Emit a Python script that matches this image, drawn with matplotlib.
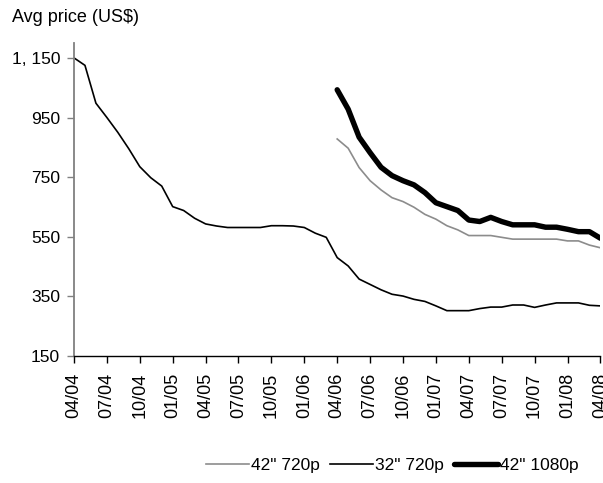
import matplotlib.pyplot as plt
import matplotlib.ticker as mticker

plt.rcParams['font.family'] = ['Liberation Sans', 'DejaVu Sans']

# monthly, 04/04 .. 04/08
months = list(range(49))
tick_pos = list(range(0, 49, 3))
tick_labels = ["04/04", "07/04", "10/04", "01/05", "04/05", "07/05", "10/05", "01/06",
               "04/06", "07/06", "10/06", "01/07", "04/07", "07/07", "10/07", "01/08", "04/08"]

price_32_720 = [1150, 1125, 998, 950, 900, 845, 785, 748, 720, 651, 638, 612, 593, 586,
                581, 581, 581, 581, 587, 587, 586, 581, 562, 548, 480, 452, 408, 390,
                372, 357, 351, 340, 333, 318, 302, 302, 302, 309, 314, 314, 321, 321,
                313, 321, 328, 328, 328, 320, 318]
# 42" sets start 04/06
months_42 = list(range(24, 49))
price_42_720 = [878, 847, 782, 738, 707, 681, 668, 649, 625, 609, 587, 573, 554, 554,
                554, 548, 542, 542, 542, 542, 542, 536, 536, 522, 513]
price_42_1080 = [1043, 978, 884, 832, 783, 755, 738, 724, 698, 664, 651, 638, 606, 601,
                 615, 601, 590, 590, 590, 582, 582, 575, 567, 567, 545]

fig = plt.figure(figsize=(6.03, 4.83), dpi=100)
ax = fig.add_axes([0.1227, 0.263, 0.873, 0.648])

ax.plot(months_42, price_42_720, color='#8c8c8c', lw=1.2, label='42" 720p')
ax.plot(months, price_32_720, color='black', lw=1.2, label='32" 720p')
ax.plot(months_42, price_42_1080, color='black', lw=3.9, label='42" 1080p',
        solid_capstyle='round', solid_joinstyle='round')

ax.set_xlim(0, 48)
ax.set_ylim(150, 1200)
ax.set_yticks(range(150, 1151, 200))
ax.yaxis.set_major_formatter(mticker.FuncFormatter(lambda v, p: f"{int(v):,}".replace(",", ", ")))
ax.set_xticks(tick_pos)
ax.set_xticklabels(tick_labels, rotation=90)
ax.tick_params(axis='both', direction='out', length=5, width=1)
ax.tick_params(axis='y', labelsize=12.5, pad=5, color='#808080')
ax.tick_params(axis='x', labelsize=13, pad=7)

for s in ('top', 'right'):
    ax.spines[s].set_visible(False)
ax.spines['left'].set_color('#808080')
ax.spines['left'].set_linewidth(1.3)
ax.spines['bottom'].set_linewidth(1.0)

fig.text(0.02, 0.963, "Avg price (US$)", fontsize=13, va='center', ha='left')

fig.legend(loc='center', bbox_to_anchor=(0.650, 0.037), ncol=3, frameon=False,
           fontsize=12.5, handlelength=2.5, handletextpad=0.1, columnspacing=0.6)

fig.savefig("out.png", dpi=100)
